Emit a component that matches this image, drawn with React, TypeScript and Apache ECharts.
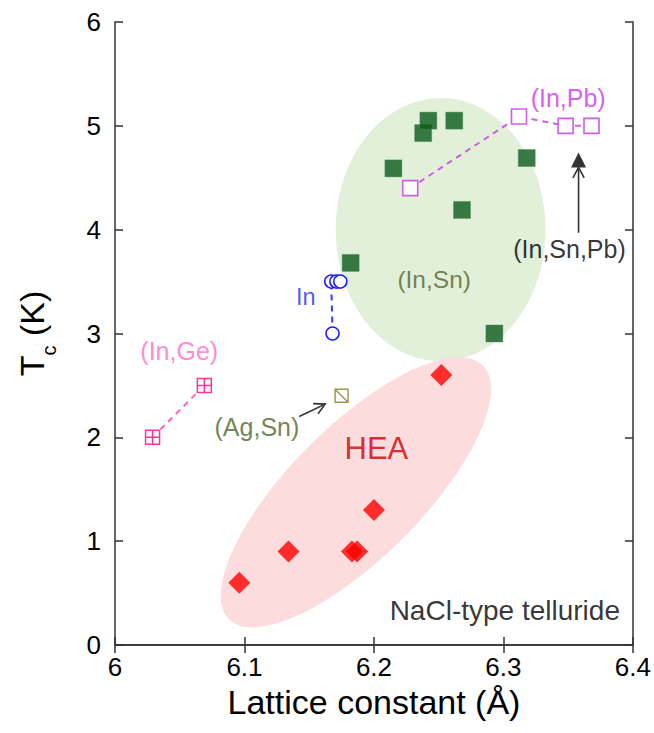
import React, { useEffect, useRef } from "react";
import * as echarts from "echarts";

// ---- data (lattice constant Å, Tc K) ----
const heaPoints = [[6.096, 0.6], [6.134, 0.9], [6.183, 0.9], [6.187, 0.9], [6.2, 1.3], [6.252, 2.6]];
const inSnPoints = [[6.182, 3.68], [6.215, 4.59], [6.238, 4.93], [6.242, 5.05], [6.262, 5.05], [6.268, 4.19], [6.293, 3.0], [6.318, 4.69]];
const inPbPoints = [[6.228, 4.4], [6.312, 5.09], [6.348, 5.0], [6.368, 5.0]];
const inPoints = [[6.168, 3.0], [6.167, 3.5], [6.171, 3.5], [6.174, 3.5]];
const inGePoints = [[6.029, 2.0], [6.069, 2.5]];
const agSnPoints = [[6.175, 2.4]];
const inSnPbPoints = [[6.358, 4.67]];

// ellipses: [centerX, centerY, semiAxis1, semiAxis2 (x-data units when rotated), rotation deg]
const inSnRegion = [[6.2515, 4.0, 0.081, 1.267, 0]];
const heaRegion = [[6.186, 1.47, 0.1385, 0.0508, 45]];

// annotation labels: [x, y, text, color, fontSize, align]
const labelItems: [number, number, string, string, number, string][] = [
  [6.35, 5.27, "(In,Pb)", "#cc33ee", 25, "center"],
  [6.351, 3.815, "(In,Sn,Pb)", "#000000", 25, "center"],
  [6.2465, 3.52, "(In,Sn)", "#55632c", 24.5, "center"],
  [6.1473, 3.35, "In", "#2a2aff", 23.5, "center"],
  [6.0496, 2.83, "(In,Ge)", "#ff6ec7", 25, "center"],
  [6.1096, 2.1, "(Ag,Sn)", "#4f632b", 25, "center"],
  [6.2019, 1.89, "HEA", "#cc0000", 31, "center"],
  [6.39, 0.337, "NaCl-type telluride", "#000000", 28, "right"],
];
// arrows: [x1, y1, x2 (tip), y2 (tip)]
const arrowSegments = [
  [6.1423, 2.2, 6.1623, 2.32],
  [6.358, 3.97, 6.358, 4.6],
];

const xTicks = { min: 6, max: 6.4, interval: 0.1 };
const yTicks = { min: 0, max: 6, interval: 1 };

const FONT = "'Liberation Sans', Arial, sans-serif";

function ellipseSeries(data: number[][], fill: string) {
  return {
    type: "custom",
    z: 1,
    silent: true,
    clip: true,
    data,
    encode: { x: 0, y: 1 },
    renderItem: (params: any, api: any) => {
      const c = api.coord([api.value(0), api.value(1)]);
      const rot = api.value(4);
      let rx: number, ry: number;
      if (rot === 0) {
        const s = api.size([api.value(2), api.value(3)]);
        rx = s[0];
        ry = s[1];
      } else {
        rx = api.size([api.value(2), 0])[0];
        ry = api.size([api.value(3), 0])[0];
      }
      return {
        type: "ellipse",
        x: c[0],
        y: c[1],
        rotation: (rot * Math.PI) / 180,
        shape: { cx: 0, cy: 0, rx, ry },
        style: { fill },
      };
    },
  };
}

export default function App() {
  const ref = useRef<HTMLDivElement>(null);
  useEffect(() => {
    document.body.style.margin = "0";
    const chart = echarts.init(ref.current!, null, { renderer: "svg" });
    const axisLine = { show: true, lineStyle: { color: "#333", width: 1.5 } };
    const tick = { show: true, inside: true, length: 8, lineStyle: { color: "#333", width: 1.5 } };
    const option: any = {
      animation: false,
      backgroundColor: "#fff",
      textStyle: { fontFamily: FONT },
      grid: { left: 115, right: 21, top: 22, bottom: 88 },
      xAxis: [
        {
          type: "value",
          ...xTicks,
          axisLine,
          axisTick: tick,
          splitLine: { show: false },
          axisLabel: { fontSize: 26, color: "#000", margin: 9, fontFamily: FONT },
          name: "Lattice constant (Å)",
          nameLocation: "middle",
          nameGap: 39,
          nameTextStyle: { fontSize: 34, color: "#000", fontFamily: FONT },
        },
        {
          type: "value",
          position: "top",
          ...xTicks,
          axisLine,
          axisTick: tick,
          splitLine: { show: false },
          axisLabel: { show: false },
        },
      ],
      yAxis: [
        {
          type: "value",
          ...yTicks,
          axisLine,
          axisTick: tick,
          splitLine: { show: false },
          axisLabel: { fontSize: 26, color: "#000", margin: 14, fontFamily: FONT },
          name: "{t|T}{s|c}{t| (K)}",
          nameLocation: "middle",
          nameGap: 56,
          nameTextStyle: {
            color: "#000",
            fontFamily: FONT,
            rich: {
              t: { fontSize: 34, lineHeight: 44, verticalAlign: "top", fontFamily: FONT, color: "#000" },
              s: { fontSize: 20, lineHeight: 44, verticalAlign: "bottom", fontFamily: FONT, color: "#000" },
            },
          },
        },
        {
          type: "value",
          position: "right",
          ...yTicks,
          axisLine,
          axisTick: tick,
          splitLine: { show: false },
          axisLabel: { show: false },
        },
      ],
      series: [
        ellipseSeries(inSnRegion, "#e2efd9"),
        ellipseSeries(heaRegion, "#fcdcdc"),
        {
          type: "scatter",
          z: 5,
          data: heaPoints,
          symbol: "diamond",
          symbolSize: 22,
          itemStyle: { color: "#ff0000" },
        },
        {
          type: "scatter",
          z: 5,
          data: inSnPoints,
          symbol: "rect",
          symbolSize: 17,
          itemStyle: { color: "#0a5a1b", borderColor: "#4a8a55", borderWidth: 0.5 },
        },
        {
          type: "line",
          z: 5,
          data: inPbPoints,
          symbol: "rect",
          symbolSize: 15,
          showAllSymbol: true,
          itemStyle: { color: "#ffffff", borderColor: "#cc5ee8", borderWidth: 1.6 },
          lineStyle: { color: "#cc5ee8", width: 2, type: [6, 5] },
        },
        {
          type: "line",
          z: 5,
          data: inPoints,
          symbol: "circle",
          symbolSize: 13,
          showAllSymbol: true,
          itemStyle: { color: "#ffffff", borderColor: "#1a1aff", borderWidth: 1.5 },
          lineStyle: { color: "#3a3aff", width: 2, type: [6, 5] },
        },
        {
          type: "line",
          z: 5,
          data: inGePoints,
          symbol: "path://M0,0H12V12H0Z M6,0V12 M0,6H12",
          symbolSize: 14,
          showAllSymbol: true,
          itemStyle: { color: "#ffffff", borderColor: "#ff3399", borderWidth: 1.5 },
          lineStyle: { color: "#ff66bb", width: 2, type: [6, 5] },
        },
        {
          type: "scatter",
          z: 5,
          data: agSnPoints,
          symbol: "path://M0,0H12V12H0Z M0,0L12,12",
          symbolSize: 13,
          itemStyle: { color: "#ffffff", borderColor: "#8b7d2b", borderWidth: 1.5 },
        },
        {
          type: "scatter",
          z: 5,
          data: inSnPbPoints,
          symbol: "triangle",
          symbolSize: 15,
          itemStyle: { color: "#000000" },
        },
        {
          type: "custom",
          z: 6,
          silent: true,
          data: arrowSegments,
          encode: { x: [0, 2], y: [1, 3] },
          renderItem: (params: any, api: any) => {
            const p1 = api.coord([api.value(0), api.value(1)]);
            const p2 = api.coord([api.value(2), api.value(3)]);
            const a = Math.atan2(p2[1] - p1[1], p2[0] - p1[0]);
            const L = 12;
            const w = (28 * Math.PI) / 180;
            const h1 = [p2[0] - L * Math.cos(a - w), p2[1] - L * Math.sin(a - w)];
            const h2 = [p2[0] - L * Math.cos(a + w), p2[1] - L * Math.sin(a + w)];
            const style = { stroke: "#333", lineWidth: 1.6, fill: "none" };
            return {
              type: "group",
              children: [
                { type: "line", shape: { x1: p1[0], y1: p1[1], x2: p2[0], y2: p2[1] }, style },
                { type: "polyline", shape: { points: [h1, p2, h2] }, style },
              ],
            };
          },
        },
        {
          type: "scatter",
          z: 6,
          silent: true,
          symbolSize: 0.1,
          itemStyle: { color: "rgba(0,0,0,0)" },
          data: labelItems.map(([x, y, text, color, size, align]) => ({
            value: [x, y],
            label: {
              show: true,
              position: "inside",
              formatter: text,
              color,
              fontSize: size,
              fontFamily: FONT,
              align,
              verticalAlign: "middle",
            },
          })),
        },
      ],
    };
    chart.setOption(option);
    return () => chart.dispose();
  }, []);
  return <div ref={ref} style={{ width: 654, height: 733 }} />;
}
